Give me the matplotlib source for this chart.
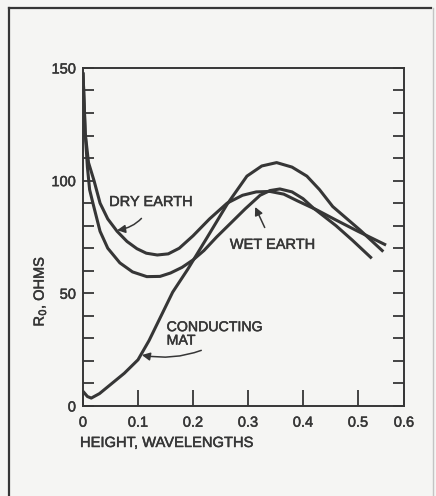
import matplotlib.pyplot as plt
import matplotlib.patheffects as pe
from matplotlib.lines import Line2D

# values (height in wavelengths, R0 in ohms)
h_dry = [0.0, 0.004, 0.01, 0.02, 0.031, 0.045, 0.062, 0.08, 0.098, 0.115, 0.135, 0.155,
         0.175, 0.2, 0.23, 0.262, 0.29, 0.315, 0.34, 0.365, 0.39, 0.425, 0.46, 0.5, 0.551]
r_dry = [148, 121, 108, 100, 90, 83, 77.5, 73, 69.8, 67.8, 67, 67.5,
         70, 75.5, 83, 90, 93.5, 95, 95.2, 94, 91, 87, 82.5, 77.5, 71.4]

h_wet = [0.0, 0.004, 0.008, 0.012, 0.018, 0.031, 0.045, 0.067, 0.09, 0.116, 0.14, 0.159,
         0.18, 0.2, 0.22, 0.243, 0.268, 0.295, 0.322, 0.34, 0.358, 0.38, 0.4, 0.418,
         0.46, 0.49, 0.525]
r_wet = [148, 121, 106, 96, 90, 77.5, 70, 63.5, 59.5, 57.4, 57.5, 59,
         61.5, 64.8, 69, 75, 81, 87.5, 93.5, 95.6, 96.3, 95, 92, 88,
         80, 73.5, 65.5]

h_mat = [0.0, 0.008, 0.015, 0.03, 0.05, 0.075, 0.10, 0.12, 0.14, 0.163, 0.19, 0.225,
         0.262, 0.298, 0.325, 0.352, 0.38, 0.407, 0.43, 0.454, 0.504, 0.546]
r_mat = [6.5, 4.2, 3.5, 5.5, 9.5, 14.5, 20.5, 29, 39, 50.5, 60.5, 74.5,
         89.5, 102, 106.5, 108, 106, 102, 96, 88.5, 78, 68.5]

x_ticks = [0, 0.1, 0.2, 0.3, 0.4, 0.5, 0.5836]
x_labels = ['0', '0.1', '0.2', '0.3', '0.4', '0.5', '0.6']
y_ticks = list(range(0, 151, 10))
y_labels = [str(v) if v % 50 == 0 else '' for v in y_ticks]

ink = '#363636'
paper = '#f5f5f3'
plt.rcParams['font.family'] = ['Liberation Sans', 'DejaVu Sans']
heavy = [pe.withStroke(linewidth=0.35, foreground=ink)]

fig = plt.figure(figsize=(4.36, 4.96), dpi=100, facecolor=paper)
ax = fig.add_axes([0.1904, 0.1815, 0.7362, 0.6815])
ax.set_facecolor(paper)

for h, r in [(h_dry, r_dry), (h_wet, r_wet), (h_mat, r_mat)]:
    ax.plot(h, r, color=ink, lw=2.2, solid_joinstyle='round', solid_capstyle='butt')

ax.set_xlim(0, 0.5836)
ax.set_ylim(0, 150)
ax.set_xticks(x_ticks)
ax.set_xticklabels(x_labels)
ax.set_yticks(y_ticks)
ax.set_yticklabels(y_labels)
ax.tick_params(axis='x', direction='in', length=11.5, width=1.3, color=ink,
               labelsize=10.5, labelcolor=ink, pad=7)
ax.tick_params(axis='y', direction='in', length=8, width=1.3, color=ink,
               labelsize=10.5, labelcolor=ink, pad=5, right=True)
for s in ax.spines.values():
    s.set_color(ink)
    s.set_linewidth(1.4)

# curve labels with arrows
ax.annotate('DRY EARTH', xy=(0.062, 78), xytext=(0.124, 90.5), fontsize=10.5, color=ink,
            ha='center', va='center',
            arrowprops=dict(arrowstyle='-|>', color=ink, lw=1.1, mutation_scale=12,
                            shrinkA=6, shrinkB=0, connectionstyle='arc3,rad=-0.3'))
ax.annotate('WET EARTH', xy=(0.313, 88.3), xytext=(0.345, 71.5), fontsize=10.5, color=ink,
            ha='center', va='center',
            arrowprops=dict(arrowstyle='-|>', color=ink, lw=1.1, mutation_scale=12,
                            shrinkA=6, shrinkB=0))
ax.annotate('CONDUCTING\nMAT', xy=(0.107, 22.6), xytext=(0.152, 32), fontsize=10.2, color=ink,
            ha='left', va='center', linespacing=0.95,
            arrowprops=dict(arrowstyle='-|>', color=ink, lw=1.1, mutation_scale=12,
                            shrinkA=0, shrinkB=0, relpos=(0.55, 0.2),
                            connectionstyle='arc3,rad=-0.18'))

fig.text(80 / 436, 1 - 443 / 496, 'HEIGHT, WAVELENGTHS', fontsize=10.6, color=ink,
         ha='left', va='center')
fig.text(40 / 436, 1 - 291 / 496, 'R$_0$, OHMS', fontsize=10.5, color=ink,
         ha='center', va='center', rotation=90)

for t in fig.texts + ax.texts + ax.get_xticklabels() + ax.get_yticklabels():
    t.set_path_effects(heavy)

# outer frame of the scanned page
fig.add_artist(Line2D([9 / 436, 9 / 436], [0, 1 - 8 / 496], color=ink, lw=1.6))
fig.add_artist(Line2D([9 / 436, 431 / 436], [1 - 8 / 496, 1 - 8 / 496], color=ink, lw=1.6))
fig.add_artist(Line2D([433 / 436, 433 / 436], [0, 1 - 8 / 496], color='#c4c4c4', lw=1.0))

fig.savefig('out.png', dpi=100, facecolor=fig.get_facecolor())
